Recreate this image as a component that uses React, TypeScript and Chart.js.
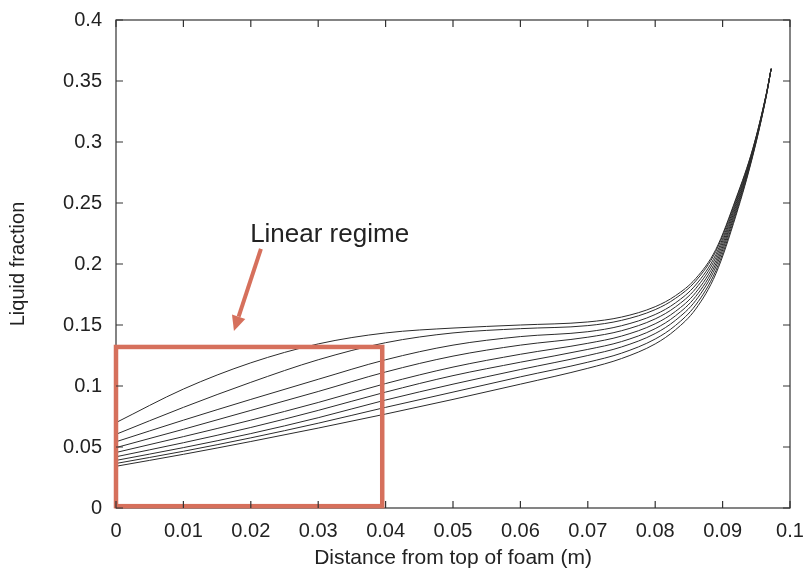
import React, { useEffect, useRef } from "react";
import { Chart, registerables } from "chart.js";

Chart.register(...registerables);

// Distance from the top of the foam (m) at which each profile is sampled
const distance = [0, 0.01, 0.02, 0.03, 0.04, 0.05, 0.06, 0.07, 0.075, 0.08, 0.083, 0.086, 0.089, 0.092, 0.0945, 0.0965, 0.0972];

// Liquid fraction profiles, one per time step (top curve first)
const profile1 = [0.070, 0.0975, 0.119, 0.1345, 0.1435, 0.1475, 0.150, 0.1525, 0.1565, 0.165, 0.174, 0.188, 0.212, 0.254, 0.295, 0.340, 0.360];
const profile2 = [0.0604, 0.0825, 0.103, 0.1215, 0.1355, 0.1435, 0.147, 0.1495, 0.1538, 0.1626, 0.1718, 0.186, 0.2104, 0.2529, 0.2945, 0.3398, 0.360];
const profile3 = [0.0543, 0.072, 0.089, 0.1055, 0.1215, 0.1335, 0.1405, 0.1445, 0.1494, 0.1586, 0.1681, 0.1828, 0.2078, 0.2511, 0.2937, 0.3396, 0.360];
const profile4 = [0.0495, 0.0645, 0.080, 0.0955, 0.1115, 0.1245, 0.1335, 0.140, 0.1453, 0.155, 0.1648, 0.1798, 0.2054, 0.2494, 0.293, 0.3393, 0.360];
const profile5 = [0.0455, 0.0585, 0.072, 0.0865, 0.102, 0.1155, 0.126, 0.135, 0.1409, 0.151, 0.1611, 0.1765, 0.2028, 0.2476, 0.2922, 0.3391, 0.360];
const profile6 = [0.042, 0.0535, 0.066, 0.080, 0.095, 0.1085, 0.1195, 0.130, 0.1364, 0.147, 0.1575, 0.1733, 0.2002, 0.2457, 0.2915, 0.3388, 0.360];
const profile7 = [0.039, 0.0495, 0.061, 0.074, 0.0885, 0.1015, 0.1135, 0.125, 0.132, 0.143, 0.1538, 0.170, 0.1976, 0.2439, 0.2907, 0.3386, 0.360];
const profile8 = [0.0365, 0.0465, 0.0575, 0.0695, 0.0825, 0.095, 0.1075, 0.1195, 0.1269, 0.1385, 0.1496, 0.1663, 0.1946, 0.2418, 0.2898, 0.3383, 0.360];
const profile9 = [0.0342, 0.044, 0.0545, 0.0655, 0.077, 0.089, 0.1015, 0.1145, 0.1225, 0.1345, 0.146, 0.163, 0.192, 0.240, 0.289, 0.338, 0.360];

const profiles = [profile1, profile2, profile3, profile4, profile5, profile6, profile7, profile8, profile9];

// Axis tick labels
const xTickLabels = ["0", "0.01", "0.02", "0.03", "0.04", "0.05", "0.06", "0.07", "0.08", "0.09", "0.1"];
const yTickLabels = ["0", "0.05", "0.1", "0.15", "0.2", "0.25", "0.3", "0.35", "0.4"];

// "Linear regime" annotation (data coordinates)
const regimeBox = { x0: 0, y0: 0.0015, x1: 0.0395, y1: 0.132 };
const regimeArrow = { fromX: 0.0215, fromY: 0.2123, toX: 0.0175, toY: 0.1451 };
const regimeLabel = { text: "Linear regime", x: 0.0199, y: 0.2183 };

const NOTE_COLOR = "rgb(214, 112, 92)";
const AXIS_COLOR = "#333333";
const TEXT_COLOR = "#222222";
const FONT = '"Liberation Sans", Arial, Helvetica, sans-serif';

const frameAndNotes = {
  id: "frameAndNotes",
  afterDatasetsDraw(chart: any) {
    const { ctx, chartArea: a, scales } = chart;
    const xs = scales.x;
    const ys = scales.y;
    ctx.save();

    // plot frame
    ctx.strokeStyle = AXIS_COLOR;
    ctx.lineWidth = 1.2;
    ctx.strokeRect(a.left, a.top, a.right - a.left, a.bottom - a.top);

    // highlighted region
    const bx0 = xs.getPixelForValue(regimeBox.x0);
    const bx1 = xs.getPixelForValue(regimeBox.x1);
    const by0 = ys.getPixelForValue(regimeBox.y0);
    const by1 = ys.getPixelForValue(regimeBox.y1);
    ctx.strokeStyle = NOTE_COLOR;
    ctx.lineWidth = 4.5;
    ctx.strokeRect(bx0, by1, bx1 - bx0, by0 - by1);

    // inward tick marks on all four sides
    const tl = 7;
    ctx.strokeStyle = AXIS_COLOR;
    ctx.lineWidth = 1.2;
    ctx.beginPath();
    xs.ticks.forEach((t: any) => {
      const px = xs.getPixelForValue(t.value);
      ctx.moveTo(px, a.bottom);
      ctx.lineTo(px, a.bottom - tl);
      ctx.moveTo(px, a.top);
      ctx.lineTo(px, a.top + tl);
    });
    ys.ticks.forEach((t: any) => {
      const py = ys.getPixelForValue(t.value);
      ctx.moveTo(a.left, py);
      ctx.lineTo(a.left + tl, py);
      ctx.moveTo(a.right, py);
      ctx.lineTo(a.right - tl, py);
    });
    ctx.stroke();

    // arrow pointing at the region
    const ax0 = xs.getPixelForValue(regimeArrow.fromX);
    const ay0 = ys.getPixelForValue(regimeArrow.fromY);
    const ax1 = xs.getPixelForValue(regimeArrow.toX);
    const ay1 = ys.getPixelForValue(regimeArrow.toY);
    const ang = Math.atan2(ay1 - ay0, ax1 - ax0);
    const headLen = 15;
    const headHalf = 7;
    const bx = ax1 - headLen * Math.cos(ang);
    const byy = ay1 - headLen * Math.sin(ang);
    ctx.strokeStyle = NOTE_COLOR;
    ctx.fillStyle = NOTE_COLOR;
    ctx.lineWidth = 4;
    ctx.beginPath();
    ctx.moveTo(ax0, ay0);
    ctx.lineTo(bx, byy);
    ctx.stroke();
    ctx.beginPath();
    ctx.moveTo(ax1, ay1);
    ctx.lineTo(bx + headHalf * Math.sin(ang), byy - headHalf * Math.cos(ang));
    ctx.lineTo(bx - headHalf * Math.sin(ang), byy + headHalf * Math.cos(ang));
    ctx.closePath();
    ctx.fill();

    // label
    ctx.fillStyle = TEXT_COLOR;
    ctx.font = `26px ${FONT}`;
    ctx.textAlign = "left";
    ctx.textBaseline = "alphabetic";
    ctx.fillText(regimeLabel.text, xs.getPixelForValue(regimeLabel.x), ys.getPixelForValue(regimeLabel.y));

    ctx.restore();
  },
};

export default function App() {
  const canvasRef = useRef<HTMLCanvasElement | null>(null);

  useEffect(() => {
    const canvas = canvasRef.current;
    if (!canvas) return;
    const chart = new Chart(canvas, {
      type: "line",
      data: {
        datasets: profiles.map((p, i) => ({
          label: `t${i + 1}`,
          data: distance.map((d, j) => ({ x: d, y: p[j] })),
          borderColor: "#2b2b2b",
          borderWidth: 1,
          pointRadius: 0,
          fill: false,
          cubicInterpolationMode: "monotone" as const,
        })),
      },
      options: {
        responsive: false,
        animation: false,
        devicePixelRatio: 1,
        layout: { padding: { top: 20, right: 16, left: 0, bottom: 0 } },
        plugins: {
          legend: { display: false },
          tooltip: { enabled: false },
        },
        scales: {
          x: {
            type: "linear",
            min: 0,
            max: 0.1,
            afterFit: (s: any) => {
              s.height = 61;
              s.paddingLeft = 0;
              s.paddingRight = 0;
            },
            grid: { display: false, drawTicks: false },
            border: { display: false },
            ticks: {
              stepSize: 0.01,
              autoSkip: false,
              maxRotation: 0,
              padding: 11,
              color: TEXT_COLOR,
              font: { family: FONT, size: 20 },
              callback: (_v: any, i: number) => xTickLabels[i],
            },
            title: {
              display: true,
              text: "Distance from top of foam (m)",
              color: TEXT_COLOR,
              font: { family: FONT, size: 21 },
              padding: { top: 0, bottom: -2 },
            },
          },
          y: {
            type: "linear",
            min: 0,
            max: 0.4,
            afterFit: (s: any) => {
              s.width = 116;
              s.paddingTop = 0;
              s.paddingBottom = 0;
            },
            grid: { display: false, drawTicks: false },
            border: { display: false },
            ticks: {
              stepSize: 0.05,
              autoSkip: false,
              padding: 14,
              color: TEXT_COLOR,
              font: { family: FONT, size: 20 },
              callback: (_v: any, i: number) => yTickLabels[i],
            },
            title: {
              display: true,
              text: "Liquid fraction",
              color: TEXT_COLOR,
              font: { family: FONT, size: 20 },
              padding: { top: 6, bottom: 0 },
            },
          },
        },
      },
      plugins: [frameAndNotes],
    });
    return () => chart.destroy();
  }, []);

  return (
    <div style={{ position: "fixed", left: 0, top: 0, width: 806, height: 569, background: "#ffffff" }}>
      <canvas ref={canvasRef} width={806} height={569} style={{ width: 806, height: 569, display: "block" }} />
    </div>
  );
}
